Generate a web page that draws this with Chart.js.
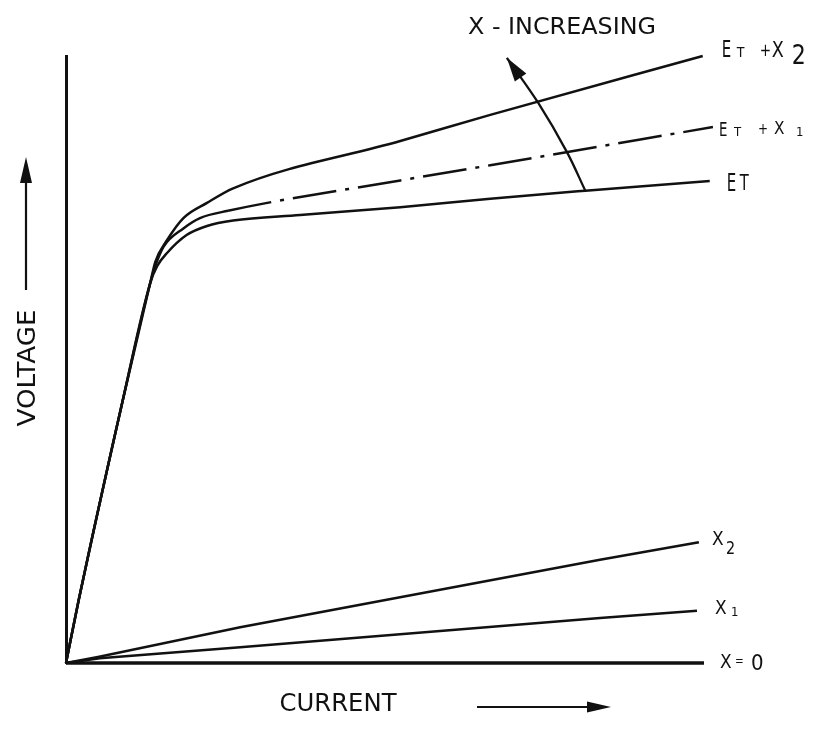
<!DOCTYPE html>
<html>
<head>
<meta charset="utf-8">
<script src="https://cdn.jsdelivr.net/npm/chart.js@4.4.1/dist/chart.umd.min.js"></script>
<style>
  html, body { margin: 0; padding: 0; background: #fff; }
  #wrap { width: 818px; height: 730px; }
</style>
</head>
<body>
<div id="wrap"><canvas id="c" width="818" height="730"></canvas></div>
<script>
// Voltage–current characteristics (arbitrary units, 0–100 on both axes)

// E_T : arc characteristic
const etCurrent = [0, 2.0, 8.9, 13.2, 14.3, 15.8, 18.9, 22.1, 26.2, 36.7, 52.4, 66.5, 81.4, 100.9];
const etVoltage = [0, 10.4, 43.3, 62.6, 65.4, 67.5, 70.5, 72.0, 72.9, 73.8, 75.1, 76.5, 77.8, 79.4];

// E_T + X1 (dash-dot beyond the knee)
const etX1Current = [0, 2.0, 8.9, 13.2, 14.1, 15.3, 18.4, 21.0, 25.4, 52.4, 66.5, 101.4];
const etX1Voltage = [0, 10.4, 43.3, 62.6, 65.7, 68.6, 71.6, 73.3, 74.5, 79.5, 82.0, 88.3];

// E_T + X2
const etX2Current = [0, 2.0, 8.9, 13.2, 14.0, 15.8, 18.4, 22.1, 26.2, 52.4, 66.5, 99.8];
const etX2Voltage = [0, 10.4, 43.3, 62.6, 66.1, 69.6, 73.3, 75.8, 78.2, 86.0, 90.3, 100];

// Reactance drops X2, X1 and X = 0
const x2Current = [0, 5.0, 27.3, 83.7, 99.2];
const x2Voltage = [0, 1.0, 5.9, 17.0, 19.9];
const x1Current = [0, 5.3, 27.3, 83.7, 98.9];
const x1Voltage = [0, 0.8, 2.6, 7.4, 8.6];
const x0Current = [0, 100];
const x0Voltage = [0, 0];

// "X increasing" pointer across the family of curves
const pointerCurrent = [81.4, 78.5, 74.0, 69.1];
const pointerVoltage = [77.8, 84.2, 92.3, 99.7];

// Curve labels as parts: [text, font size, x offset, baseline shift, horizontal squeeze]
const labelEtX2 = [['E', 23, 0, 0, 0.65], ['T', 14, 15, 2, 0.9], ['+', 17, 38, 1, 0.8], ['X', 22, 50, 0, 0.8], ['2', 26, 70, 6, 0.85]];
const labelEtX1 = [['E', 19, 0, 0, 0.7], ['T', 13, 15, 2, 0.9], ['+', 15, 39, -1, 0.8], ['X', 18, 55, -2, 0.85], ['1', 13, 77, 2, 0.9]];
const labelEt   = [['E', 25, 0, 0, 0.6], ['T', 21, 13, 1, 0.7]];
const labelX2   = [['X', 20, 0, 0, 0.85], ['2', 18, 14, 9, 0.8]];
const labelX1   = [['X', 20, 0, 0, 0.85], ['1', 13, 16, 4, 0.9]];
const labelX0   = [['X', 20, 0, 0, 0.85], ['=', 13, 15, -1, 0.8], ['0', 22, 31, 1, 0.9]];

const INK = '#111';
const FONT = '"DejaVu Sans", sans-serif';

const pts = (xs, ys) => xs.map((x, i) => ({ x, y: ys[i] }));

function curve(label, xs, ys, extra) {
  return Object.assign({
    label,
    data: pts(xs, ys),
    borderColor: INK,
    borderWidth: 2.5,
    pointRadius: 0,
    fill: false,
    cubicInterpolationMode: 'monotone',
    clip: false
  }, extra || {});
}

// label made of parts, each with its own size, offset and horizontal squeeze
function drawParts(ctx, parts, x, y) {
  parts.forEach(([t, size, dx, dy, sx]) => {
    ctx.font = size + 'px ' + FONT;
    ctx.save();
    ctx.translate(x + dx, y + dy);
    ctx.scale(sx, 1);
    ctx.fillText(t, 0, 0);
    ctx.restore();
  });
}

// text squeezed/stretched horizontally to an exact width, centred at (x, y)
function drawFit(ctx, text, x, y, size, width) {
  ctx.font = size + 'px ' + FONT;
  const w = ctx.measureText(text).width;
  ctx.save();
  ctx.translate(x, y);
  ctx.scale(width / w, 1);
  ctx.textAlign = 'center';
  ctx.fillText(text, 0, 0);
  ctx.restore();
}

function arrowHead(ctx, tipX, tipY, fromX, fromY, len, half) {
  const a = Math.atan2(tipY - fromY, tipX - fromX);
  ctx.beginPath();
  ctx.moveTo(tipX, tipY);
  ctx.lineTo(tipX - len * Math.cos(a) + half * Math.sin(a), tipY - len * Math.sin(a) - half * Math.cos(a));
  ctx.lineTo(tipX - len * Math.cos(a) - half * Math.sin(a), tipY - len * Math.sin(a) + half * Math.cos(a));
  ctx.closePath();
  ctx.fill();
}

const annotate = {
  id: 'annotate',
  afterDatasetsDraw(chart) {
    const { ctx, chartArea: ca, scales: { x, y } } = chart;
    const px = v => x.getPixelForValue(v);
    const py = v => y.getPixelForValue(v);
    ctx.save();
    ctx.fillStyle = INK;
    ctx.strokeStyle = INK;
    ctx.textBaseline = 'middle';
    ctx.textAlign = 'left';

    const endOf = (xs, ys) => [px(xs[xs.length - 1]), py(ys[ys.length - 1])];

    let [ex, ey] = endOf(etX2Current, etX2Voltage);
    drawParts(ctx, labelEtX2, ex + 19, ey - 5);
    [ex, ey] = endOf(etX1Current, etX1Voltage);
    drawParts(ctx, labelEtX1, ex + 6, ey + 4);
    [ex, ey] = endOf(etCurrent, etVoltage);
    drawParts(ctx, labelEt, ex + 17, ey + 3);
    [ex, ey] = endOf(x2Current, x2Voltage);
    drawParts(ctx, labelX2, ex + 13, ey - 2);
    [ex, ey] = endOf(x1Current, x1Voltage);
    drawParts(ctx, labelX1, ex + 18, ey - 2);
    [ex, ey] = endOf(x0Current, x0Voltage);
    drawParts(ctx, labelX0, ex + 16, ey);

    // pointer arrowhead
    const n = pointerCurrent.length;
    arrowHead(ctx, px(pointerCurrent[n - 1]), py(pointerVoltage[n - 1]),
              px(pointerCurrent[n - 2]), py(pointerVoltage[n - 2]), 24, 7);

    // "X - INCREASING"
    drawFit(ctx, 'X - INCREASING', 562, 28, 23, 188);

    // axis titles with direction arrows
    drawFit(ctx, 'CURRENT', 338, ca.bottom + 41, 25, 117);
    ctx.lineWidth = 2.2;
    ctx.beginPath();
    ctx.moveTo(477, ca.bottom + 44);
    ctx.lineTo(595, ca.bottom + 44);
    ctx.stroke();
    arrowHead(ctx, 611, ca.bottom + 44, 477, ca.bottom + 44, 24, 5.5);

    ctx.save();
    ctx.translate(28, 368);
    ctx.rotate(-Math.PI / 2);
    drawFit(ctx, 'VOLTAGE', 0, 0, 25, 117);
    ctx.restore();
    ctx.beginPath();
    ctx.moveTo(26, 290);
    ctx.lineTo(26, 175);
    ctx.stroke();
    arrowHead(ctx, 26, 157, 26, 290, 26, 6);

    ctx.restore();
  }
};

new Chart(document.getElementById('c'), {
  type: 'line',
  data: {
    datasets: [
      curve('E_T', etCurrent, etVoltage),
      curve('E_T + X1', etX1Current, etX1Voltage, {
        segment: { borderDash: c => (c.p0.parsed.x >= 25 ? [44, 9, 4, 9] : undefined) }
      }),
      curve('E_T + X2', etX2Current, etX2Voltage),
      curve('X2', x2Current, x2Voltage, { cubicInterpolationMode: 'default', tension: 0 }),
      curve('X1', x1Current, x1Voltage, { cubicInterpolationMode: 'default', tension: 0 }),
      curve('X = 0', x0Current, x0Voltage, { borderWidth: 3.4, tension: 0 }),
      curve('X increasing', pointerCurrent, pointerVoltage, { cubicInterpolationMode: 'default', tension: 0.35, borderWidth: 2.3 })
    ]
  },
  options: {
    responsive: false,
    animation: false,
    events: [],
    layout: { padding: { left: 66, right: 114, top: 56, bottom: 67 } },
    plugins: { legend: { display: false }, tooltip: { enabled: false }, title: { display: false } },
    scales: {
      x: { type: 'linear', min: 0, max: 100, display: false },
      y: {
        type: 'linear', min: 0, max: 100,
        grid: { display: false, drawTicks: false },
        ticks: { display: false },
        border: { display: true, color: INK, width: 3 }
      }
    }
  },
  plugins: [annotate]
});
</script>
</body>
</html>
